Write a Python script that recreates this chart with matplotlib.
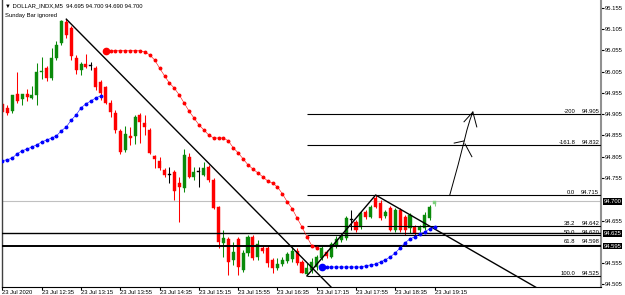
import numpy as np
import matplotlib.pyplot as plt
import matplotlib.transforms as mtransforms

plt.rcParams['font.family'] = ['Liberation Sans', 'DejaVu Sans']

# DOLLAR_INDX, M5 bars
opens = [94.929, 94.920, 94.912, 94.952, 94.941, 94.952, 94.943, 94.950, 95.004, 95.013,
         94.990, 95.037, 95.072, 95.121, 95.107, 95.037, 95.009, 95.023, 95.018, 95.013,
         94.981, 94.969, 94.931, 94.908, 94.866, 94.821, 94.854, 94.854, 94.903, 94.884,
         94.868, 94.807, 94.795, 94.774, 94.762, 94.769, 94.743, 94.732, 94.805, 94.758,
         94.769, 94.762, 94.781, 94.751, 94.687, 94.603, 94.612, 94.563, 94.612, 94.539,
         94.579, 94.617, 94.570, 94.591, 94.591, 94.563, 94.544, 94.553, 94.560, 94.565,
         94.584, 94.558, 94.530, 94.539, 94.546, 94.568, 94.582, 94.570, 94.596, 94.610,
         94.614, 94.657, 94.652, 94.640, 94.675, 94.664, 94.708, 94.697, 94.666, 94.685,
         94.633, 94.680, 94.664, 94.638, 94.640, 94.633, 94.638, 94.661, 94.695]
highs = [94.938, 94.927, 94.950, 95.004, 94.952, 94.964, 94.971, 95.025, 95.039, 95.018,
         95.060, 95.077, 95.126, 95.128, 95.112, 95.044, 95.027, 95.046, 95.027, 95.018,
         94.985, 94.971, 94.938, 94.915, 94.870, 94.877, 94.875, 94.903, 94.908, 94.903,
         94.873, 94.809, 94.805, 94.779, 94.781, 94.774, 94.758, 94.823, 94.814, 94.781,
         94.781, 94.793, 94.786, 94.755, 94.690, 94.633, 94.617, 94.605, 94.617, 94.586,
         94.622, 94.622, 94.610, 94.596, 94.596, 94.568, 94.568, 94.570, 94.582, 94.593,
         94.591, 94.563, 94.556, 94.568, 94.575, 94.596, 94.586, 94.605, 94.619, 94.624,
         94.666, 94.680, 94.657, 94.678, 94.680, 94.692, 94.715, 94.704, 94.680, 94.690,
         94.685, 94.685, 94.668, 94.673, 94.645, 94.645, 94.675, 94.692, 94.700]
lows = [94.898, 94.903, 94.908, 94.931, 94.927, 94.936, 94.941, 94.927, 94.988, 94.983,
        94.985, 95.032, 95.067, 95.084, 95.032, 94.999, 94.997, 95.013, 95.009, 94.962,
        94.938, 94.929, 94.898, 94.861, 94.812, 94.816, 94.833, 94.835, 94.837, 94.856,
        94.812, 94.779, 94.774, 94.758, 94.743, 94.704, 94.652, 94.722, 94.755, 94.751,
        94.734, 94.760, 94.746, 94.683, 94.591, 94.570, 94.528, 94.551, 94.527, 94.535,
        94.572, 94.563, 94.563, 94.579, 94.546, 94.532, 94.539, 94.549, 94.556, 94.558,
        94.551, 94.532, 94.525, 94.532, 94.539, 94.563, 94.568, 94.568, 94.591, 94.605,
        94.610, 94.633, 94.628, 94.636, 94.659, 94.661, 94.685, 94.657, 94.661, 94.631,
        94.628, 94.628, 94.622, 94.626, 94.622, 94.628, 94.633, 94.657, 94.690]
closes = [94.910, 94.908, 94.950, 94.936, 94.952, 94.945, 94.950, 95.004, 95.006, 94.990,
          95.037, 95.067, 95.124, 95.091, 95.042, 95.009, 95.023, 95.016, 95.018, 94.969,
          94.955, 94.931, 94.910, 94.868, 94.816, 94.858, 94.849, 94.898, 94.887, 94.875,
          94.814, 94.800, 94.779, 94.762, 94.762, 94.725, 94.734, 94.809, 94.758, 94.769,
          94.769, 94.779, 94.751, 94.685, 94.605, 94.614, 94.558, 94.582, 94.546, 94.579,
          94.617, 94.568, 94.600, 94.584, 94.556, 94.544, 94.553, 94.563, 94.577, 94.584,
          94.556, 94.532, 94.544, 94.558, 94.570, 94.591, 94.572, 94.600, 94.612, 94.619,
          94.661, 94.657, 94.633, 94.673, 94.664, 94.687, 94.687, 94.661, 94.675, 94.633,
          94.680, 94.633, 94.633, 94.668, 94.626, 94.640, 94.668, 94.687, 94.700]

# dotted trend indicator: blue (up), red (down), blue (up)
blue1_start = 0
blue1 = [94.796, 94.798, 94.802, 94.812, 94.819, 94.823, 94.828, 94.833, 94.840, 94.844,
         94.849, 94.854, 94.866, 94.875, 94.891, 94.903, 94.920, 94.929, 94.936, 94.943,
         94.948]
red_start = 21
red = [95.054, 95.054, 95.054, 95.054, 95.054, 95.054, 95.054, 95.054, 95.051, 95.044,
       95.032, 95.013, 94.995, 94.978, 94.966, 94.950, 94.931, 94.912, 94.896, 94.880,
       94.868, 94.856, 94.849, 94.849, 94.849, 94.842, 94.826, 94.814, 94.800, 94.786,
       94.776, 94.767, 94.758, 94.748, 94.743, 94.734, 94.718, 94.699, 94.683, 94.661,
       94.640, 94.617, 94.596, 94.591]
blue2_start = 65
blue2 = [94.546, 94.546, 94.546, 94.546, 94.546, 94.546, 94.546, 94.546, 94.546, 94.549,
         94.551, 94.553, 94.558, 94.563, 94.570, 94.579, 94.591, 94.603, 94.612, 94.617,
         94.624, 94.628, 94.636, 94.640]

time_labels = ["23 Jul 2020", "23 Jul 12:35", "23 Jul 13:15", "23 Jul 13:55", "23 Jul 14:35",
               "23 Jul 15:15", "23 Jul 15:55", "23 Jul 16:35", "23 Jul 17:15", "23 Jul 17:55",
               "23 Jul 18:35", "23 Jul 19:15"]
price_ticks = [95.155, 95.105, 95.055, 95.005, 94.955, 94.905, 94.855, 94.805, 94.755,
               94.655, 94.555, 94.505]

# objects on the chart
bid = 94.700
hlines = [94.625, 94.595]
fib_start = 62
fib_text = ["-200", "-161.8", "0.0", "38.2", "50.0", "61.8", "100.0"]
fib_prices = [94.905, 94.832, 94.715, 94.642, 94.620, 94.598, 94.525]
trend_x = [13, 70]
trend_y = [95.128, 94.463]
tri_x = [62, 76, 112]
tri_y = [94.525, 94.715, 94.476]
arrow_x = [91.1, 92.8, 94.0, 94.6, 95.2, 95.8]
arrow_y = [94.715, 94.786, 94.840, 94.868, 94.891, 94.910]
head1_x = [92.0, 94.0]
head1_y = [94.837, 94.842]
head1b_x = [94.2, 95.6]
head1b_y = [94.835, 94.805]
head2_x = [94.0, 95.8, 96.6]
head2_y = [94.887, 94.910, 94.875]

GREEN = '#0a8a0a'
RED = '#ff0000'
FS = 4.2

fig = plt.figure(figsize=(6.25, 2.95), dpi=100)
ax = fig.add_axes([2 / 625, 8 / 295, 599 / 625, 287 / 295])
ax.set_xlim(-0.1, 121.9)
ax.set_ylim(94.499, 95.173)

x = np.arange(len(opens))
o, h, l, c = map(np.array, (opens, highs, lows, closes))
colors = np.where(c > o, GREEN, np.where(c < o, RED, 'black')).astype(object)
colors[-1] = '#7fd07f'
ax.vlines(x, l, h, colors=list(colors), lw=0.75, zorder=2)
body_lo = np.minimum(o, c)
body_h = np.maximum(np.abs(c - o), 0.0015)
ax.bar(x, body_h, width=0.62, bottom=body_lo, color=list(colors),
       edgecolor=list(colors), lw=0.3, zorder=2)

# horizontal lines and fibo
ax.axhline(bid, color='#c0c0c0', lw=0.8, zorder=1)
ax.axhline(hlines[0], color='black', lw=1.0, zorder=3)
ax.axhline(hlines[1], color='black', lw=1.4, zorder=3)
ax.hlines(fib_prices, fib_start, 121.9, color='black', lw=0.8, zorder=3)
tr = mtransforms.blended_transform_factory(ax.transAxes, ax.transData)
for txt, p in zip(fib_text, fib_prices):
    ax.text(0.957, p + 0.001, txt, transform=tr, ha='right', va='bottom', fontsize=FS)
    ax.text(0.997, p + 0.001, f"{p:.3f}", transform=tr, ha='right', va='bottom', fontsize=FS)

# trend lines
ax.plot(trend_x, trend_y, color='black', lw=1.0, zorder=3)
ax.plot(tri_x, tri_y, color='black', lw=1.0, zorder=3)
for xs, ys in [(arrow_x, arrow_y), (head1_x, head1_y), (head1b_x, head1b_y), (head2_x, head2_y)]:
    ax.plot(xs, ys, color='black', lw=0.7, zorder=3)

# trend dots
for start, vals, col in [(blue1_start, blue1, 'blue'), (red_start, red, RED), (blue2_start, blue2, 'blue')]:
    xs = np.arange(start, start + len(vals))
    ax.plot(xs, vals, color=col, lw=0.4, marker='o', ms=1.8, mec=col, zorder=4)
ax.plot(red_start, red[0], 'o', color=RED, ms=4.5, zorder=5)
ax.plot(blue2_start, blue2[0], 'o', color='blue', ms=4.5, zorder=5)

# axes styling
ax.spines['top'].set_visible(False)
ax.spines['left'].set_color('#404040')
ax.spines['left'].set_linewidth(1.0)
ax.spines['right'].set_color('#909090')
ax.spines['right'].set_linewidth(1.5)
ax.spines['bottom'].set_linewidth(0.8)
ax.yaxis.tick_right()
ax.set_yticks(price_ticks)
ax.set_yticklabels([f"{p:.3f}" for p in price_ticks])
ax.tick_params(axis='y', length=2, pad=1, labelsize=FS)
ax.set_xticks(np.arange(0, 8 * len(time_labels), 8))
ax.set_xticklabels(time_labels, ha='left')
ax.tick_params(axis='x', length=2, pad=0.5, labelsize=FS)

for p in [bid] + hlines:
    ax.text(1.004, p, f"{p:.3f}", transform=tr, ha='left', va='center', fontsize=FS,
            color='white', bbox=dict(facecolor='black', edgecolor='none', pad=0.6), clip_on=False)

fig.text(5 / 625, 1 - 6 / 295, "\u25bc DOLLAR_INDX,M5  94.695 94.700 94.690 94.700",
         fontsize=FS, va='center', ha='left')
fig.text(5 / 625, 1 - 16 / 295, "Sunday Bar ignored", fontsize=FS, va='center', ha='left')

fig.savefig('out.png', dpi=100)
